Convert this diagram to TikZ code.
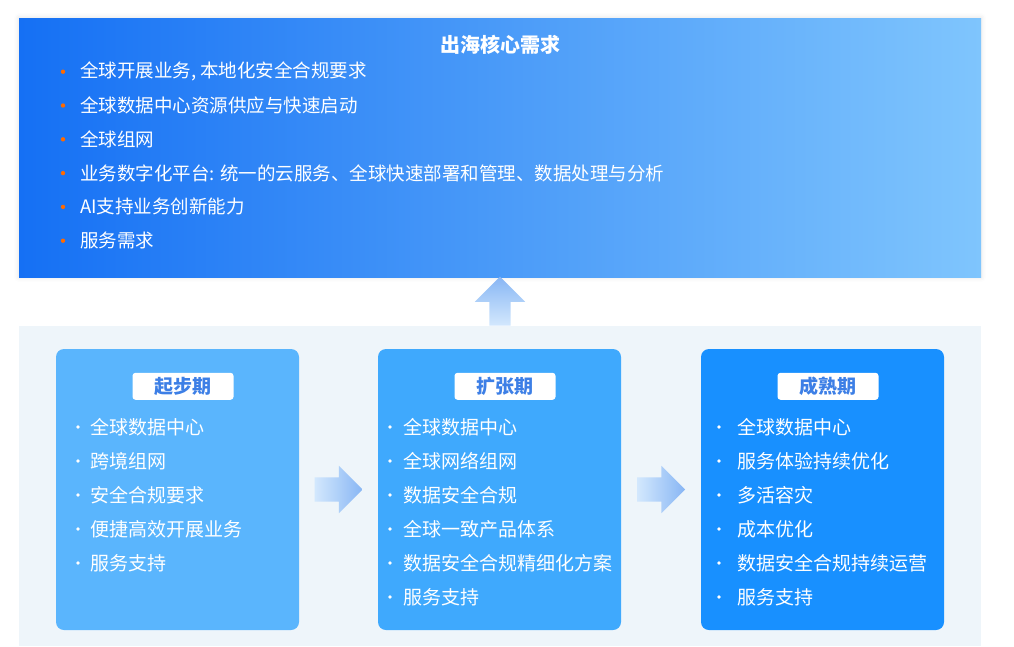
\documentclass[tikz,border=0pt]{standalone}
\usepackage{fontspec}
\newfontfamily\cjk{Noto Sans CJK SC}
\usetikzlibrary{calc, positioning, shapes.arrows, shadows.blur}

\definecolor{topleft}{HTML}{1570F4}
\definecolor{topright}{HTML}{7FC5FD}
\definecolor{panelbg}{HTML}{EEF5FA}
\definecolor{cardA}{HTML}{5AB5FD}
\definecolor{cardB}{HTML}{3FA9FD}
\definecolor{cardC}{HTML}{1890FF}
\definecolor{labblue}{HTML}{3D7FE6}
\definecolor{dotorange}{HTML}{FF6A00}
\definecolor{arrowdark}{HTML}{88B6F4}
\definecolor{arrowlight}{HTML}{D3E8FD}

\tikzset{
  card/.style={rounded corners=8pt, minimum width=243pt, minimum height=281pt, inner sep=0pt},
  stagelab/.style={fill=white, rounded corners=3pt, minimum width=101pt, minimum height=27pt,
    inner sep=0pt, text=labblue, font=\cjk\bfseries\fontsize{19}{19}\selectfont},
  item/.style={anchor=west, inner sep=0pt, text=white, font=\cjk\fontsize{19}{19}\selectfont},
  topitem/.style={item, font=\cjk\fontsize{18.5}{18.5}\selectfont},
  flowarrow/.style={single arrow, draw=none, inner sep=12pt, minimum height=48pt,
    minimum width=47pt, single arrow head extend=11.5pt}
}

\begin{document}
\begin{tikzpicture}[x=1pt, y=-1pt, font=\cjk]
    \useasboundingbox (0,0) rectangle (1014,646);

    % Top box with needs
    \node[minimum width=962pt, minimum height=259pt, inner sep=0pt,
      left color=topleft, right color=topright,
      blur shadow={shadow xshift=0pt, shadow yshift=0pt, shadow blur radius=5pt, shadow opacity=12}]
      (needs) at (500,147.5) {};
    \node[text=white, font=\cjk\bfseries\fontsize{20}{20}\selectfont] (title) at (500,45) {出海核心需求};
    \foreach \t [count=\i] in {全球开展业务{,} 本地化安全合规要求, 全球数据中心资源供应与快速启动,
        全球组网, 业务数字化平台: 统一的云服务、全球快速部署和管理、数据处理与分析,
        AI支持业务创新能力, 服务需求} {
      \node[topitem] (t\i) at (80, 37.9+33.8*\i) {\t};
      \fill[dotorange] ([xshift=-17pt]t\i.west) circle (2.2pt);
    }

    % Lower panel
    \node[fill=panelbg, minimum width=962pt, minimum height=320pt, inner sep=0pt] (panel) at (500,486) {};

    % Arrow up to the needs
    \node[flowarrow, shape border rotate=90, minimum height=49pt, minimum width=50pt,
      inner sep=10.5pt, single arrow head extend=14.5pt,
      top color=arrowdark, bottom color=arrowlight]
      (up) at ([yshift=-5pt]$(needs.south)!0.5!(panel.north)$) {};

    % Stage cards
    \node[card, fill=cardA] (start) at (177.5,489.5) {};
    \node[card, fill=cardB] (expand) at (499.5,489.5) {};
    \node[card, fill=cardC] (mature) at (822.5,489.5) {};

    \node[stagelab] (startlab) at ([xshift=5.5pt, yshift=-37.5pt]start.north) {起步期};
    \node[stagelab] (expandlab) at ([xshift=5.5pt, yshift=-37.5pt]expand.north) {扩张期};
    \node[stagelab] (maturelab) at ([xshift=5.5pt, yshift=-37.5pt]mature.north) {成熟期};

    % Items of the stages
    \foreach \t [count=\i] in {全球数据中心, 跨境组网, 安全合规要求, 便捷高效开展业务, 服务支持} {
      \node[item] (a\i) at (90, 393+34*\i) {\t};
      \fill[white] ([xshift=-12pt]a\i.west) circle (1.8pt);
    }
    \foreach \t [count=\i] in {全球数据中心, 全球网络组网, 数据安全合规, 全球一致产品体系,
        数据安全合规精细化方案, 服务支持} {
      \node[item] (b\i) at (403, 393+34*\i) {\t};
      \fill[white] ([xshift=-13pt]b\i.west) circle (1.8pt);
    }
    \foreach \t [count=\i] in {全球数据中心, 服务体验持续优化, 多活容灾, 成本优化,
        数据安全合规持续运营, 服务支持} {
      \node[item] (c\i) at (737, 393+34*\i) {\t};
      \fill[white] ([xshift=-18pt]c\i.west) circle (1.8pt);
    }

    % Arrows between stages
    \node[flowarrow, left color=arrowlight, right color=arrowdark]
      (ab) at ([xshift=-6pt]$(start.east)!0.5!(expand.west)$) {};
    \node[flowarrow, left color=arrowlight, right color=arrowdark]
      (bc) at ([xshift=-6pt]$(expand.east)!0.5!(mature.west)$) {};
\end{tikzpicture}
\end{document}
